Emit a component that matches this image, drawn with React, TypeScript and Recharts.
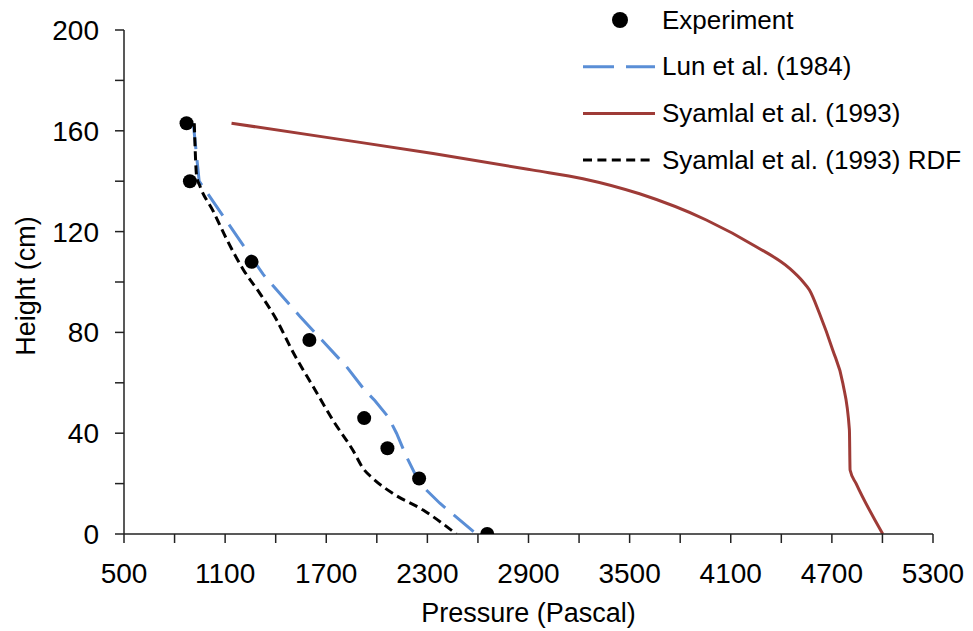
import React from 'react';
import { ComposedChart, Line, Scatter, XAxis, YAxis, Legend } from 'recharts';

// Experiment: pressure (Pa), height (cm)
const experimentP = [871, 891, 1257, 1600, 1925, 2063, 2251, 2655];
const experimentH = [163, 140, 108, 77, 46, 34, 22, 0];

// Lun et al. (1984)
const lunP = [911, 946, 1326, 1543, 1820, 1929, 1988, 2067, 2117, 2176, 2255, 2374, 2591];
const lunH = [163, 140, 103, 86.4, 66.4, 57, 53, 46.5, 40, 30.7, 20, 12.2, 0];

// Syamlal et al. (1993)
const syaP = [1138, 1741, 2334, 2927, 3223, 3559, 3955, 4251, 4449, 4530, 4567, 4626, 4705, 4765, 4804, 4808, 4844, 5002];
const syaH = [163, 157, 151, 144.4, 141, 135, 124.6, 114, 105.4, 100, 96.8, 87.6, 73, 59.8, 41.3, 25.4, 20, 0];

// Syamlal et al. (1993) RDF
const rdfP = [917, 931, 951, 1030, 1109, 1207, 1306, 1405, 1504, 1622, 1741, 1860, 1919, 1978, 2097, 2275, 2472];
const rdfH = [163, 142, 138, 128, 117, 105, 95.5, 85, 72, 58.5, 45, 33, 26, 22, 16, 9.5, 0];

const xTicks = [500, 800, 1100, 1400, 1700, 2000, 2300, 2600, 2900, 3200, 3500, 3800, 4100, 4400, 4700, 5000, 5300];
const xTickLabels = [500, 1100, 1700, 2300, 2900, 3500, 4100, 4700, 5300];
const yTicks = [0, 20, 40, 60, 80, 100, 120, 140, 160, 180, 200];
const yTickLabels = [0, 40, 80, 120, 160, 200];

const seriesNames = ['Experiment', 'Lun et al. (1984)', 'Syamlal et al. (1993)', 'Syamlal et al. (1993) RDF'];

const zip = (p: number[], h: number[]) => p.map((v, i) => ({ p: v, h: h[i] }));
const expData = zip(experimentP, experimentH);
const lunData = zip(lunP, lunH);
const syaData = zip(syaP, syaH);
const rdfData = zip(rdfP, rdfH);

const FONT = '"Liberation Sans", Arial, sans-serif';
const BLUE = '#5A8ED6';
const RED = '#9E3B37';
const BLACK = '#000000';

const LegendContent = () => {
  const rowH = 46.7;
  return (
    <svg width={398} height={190} style={{ display: 'block' }}>
      {seriesNames.map((name, i) => {
        const cy = 20 + i * rowH;
        let marker: React.ReactNode = null;
        if (i === 0) marker = <circle cx={45} cy={cy} r={8} fill={BLACK} />;
        if (i === 1) marker = <line x1={8} x2={80} y1={cy} y2={cy} stroke={BLUE} strokeWidth={3} strokeDasharray="31 12" />;
        if (i === 2) marker = <line x1={8} x2={80} y1={cy} y2={cy} stroke={RED} strokeWidth={3} />;
        if (i === 3) marker = <line x1={8} x2={80} y1={cy} y2={cy} stroke={BLACK} strokeWidth={3} strokeDasharray="9 5.4" />;
        return (
          <g key={name}>
            {marker}
            <text x={87} y={cy + 8.5} fontFamily={FONT} fontSize={26} fill="#000">
              {name}
            </text>
          </g>
        );
      })}
    </svg>
  );
};

const YTitle = (props: any) => {
  const vb = props.viewBox || { x: 0, y: 30, width: 124, height: 504 };
  const cy = vb.y + vb.height / 2 + 4;
  return (
    <text transform={`translate(35, ${cy}) rotate(-90)`} textAnchor="middle" fontFamily={FONT} fontSize={27} fill="#000">
      Height (cm)
    </text>
  );
};

const XTitle = (props: any) => {
  const vb = props.viewBox || { x: 124, y: 534, width: 809, height: 97 };
  return (
    <text x={vb.x + vb.width / 2} y={621.5} textAnchor="middle" fontFamily={FONT} fontSize={27} fill="#000">
      Pressure (Pascal)
    </text>
  );
};

export default function App() {
  return (
    <div style={{ position: 'absolute', left: 0, top: 0, width: 973, height: 631, background: '#fff' }}>
      <ComposedChart width={973} height={631} margin={{ top: 30, right: 40, left: 0, bottom: 0 }}>
        <XAxis
          type="number"
          dataKey="p"
          domain={[500, 5300]}
          allowDataOverflow
          ticks={xTicks}
          interval={0}
          tickFormatter={(v: number) => (xTickLabels.includes(v) ? String(v) : '')}
          height={97}
          tickSize={9}
          tickMargin={20}
          axisLine={{ stroke: '#222', strokeWidth: 1.5 }}
          tickLine={{ stroke: '#222', strokeWidth: 1.5 }}
          tick={{ fill: '#000', fontSize: 28, fontFamily: FONT }}
          label={<XTitle />}
        />
        <YAxis
          type="number"
          dataKey="h"
          domain={[0, 200]}
          allowDataOverflow
          ticks={yTicks}
          interval={0}
          tickFormatter={(v: number) => (yTickLabels.includes(v) ? String(v) : '')}
          width={124}
          tickSize={9}
          tickMargin={16}
          axisLine={{ stroke: '#222', strokeWidth: 1.5 }}
          tickLine={{ stroke: '#222', strokeWidth: 1.5 }}
          tick={{ fill: '#000', fontSize: 28, fontFamily: FONT }}
          label={<YTitle />}
        />
        <Legend
          layout="vertical"
          align="center"
          verticalAlign="middle"
          content={<LegendContent />}
          wrapperStyle={{ left: 575, top: 0, width: 398, height: 190 }}
        />
        <Scatter
          name={seriesNames[0]}
          data={expData}
          dataKey="h"
          fill={BLACK}
          isAnimationActive={false}
          shape={(props: any) => <circle cx={props.cx} cy={props.cy} r={7} fill={BLACK} />}
        />
        <Line
          name={seriesNames[1]}
          data={lunData}
          dataKey="h"
          type="linear"
          stroke={BLUE}
          strokeWidth={3}
          strokeDasharray="26 11"
          dot={false}
          activeDot={false}
          isAnimationActive={false}
        />
        <Line
          name={seriesNames[2]}
          data={syaData}
          dataKey="h"
          type="monotoneX"
          stroke={RED}
          strokeWidth={3}
          dot={false}
          activeDot={false}
          isAnimationActive={false}
        />
        <Line
          name={seriesNames[3]}
          data={rdfData}
          dataKey="h"
          type="monotoneX"
          stroke={BLACK}
          strokeWidth={3}
          strokeDasharray="9 5"
          dot={false}
          activeDot={false}
          isAnimationActive={false}
        />
      </ComposedChart>
    </div>
  );
}
